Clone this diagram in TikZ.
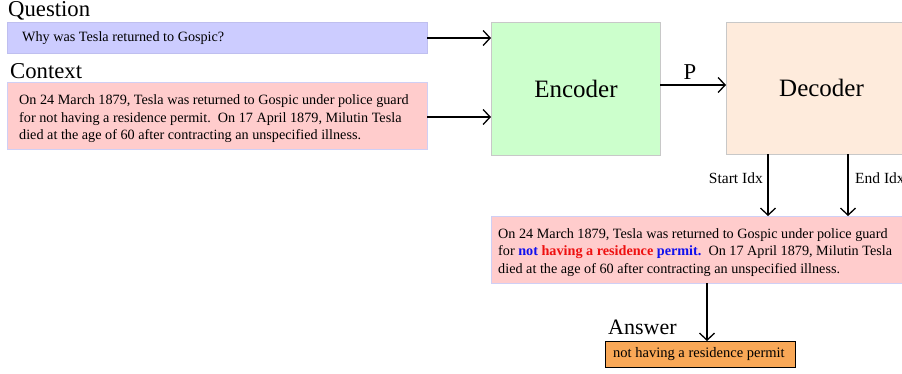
\documentclass[tikz,border=0pt]{standalone}
\usepackage{fontspec}
\setmainfont{Liberation Serif}
\usetikzlibrary{arrows.meta}
\definecolor{qfill}{HTML}{CCCCFF}
\definecolor{qline}{HTML}{BFBFEF}
\definecolor{cfill}{HTML}{FFCCCC}
\definecolor{cline}{HTML}{CFCFF5}
\definecolor{efill}{HTML}{CCFFCC}
\definecolor{dfill}{HTML}{FEEBDC}
\definecolor{gline}{HTML}{C8C8C8}
\definecolor{afill}{HTML}{F9A857}
\definecolor{hblue}{HTML}{1010EE}
\definecolor{hred}{HTML}{EE1010}
\tikzset{
  boxc/.style={draw=cline, line width=1pt, fill=cfill, anchor=north west, inner sep=0pt},
  body/.style={anchor=west, inner sep=0pt, align=left, font=\rmfamily\fontsize{14.2}{17.5}\selectfont},
  bigbox/.style={draw=gline, line width=1pt, anchor=north west, inner sep=0pt},
  bigtxt/.style={inner sep=0pt, font=\rmfamily\fontsize{25}{28}\selectfont},
  lbl/.style={anchor=base west, inner sep=0pt, font=\rmfamily\fontsize{22.7}{24}\selectfont},
  small/.style={inner sep=0pt, font=\rmfamily\fontsize{15.5}{17}\selectfont},
  arr/.style={line width=1.3pt, -{Straight Barb[length=7pt,width=15pt,line width=1.3pt]}}
}
\begin{document}
\begin{tikzpicture}[x=1pt,y=-1pt]
\clip (0,0) rectangle (902,373);
\fill[white] (0,0) rectangle (902,373);
% labels
\node[lbl] (qlbl) at (8,16.5) {Question};
\node[lbl] (clbl) at (10,78) {Context};
% question
\node[boxc, draw=qline, fill=qfill, minimum width=420pt, minimum height=31pt] (q) at (7,22) {};
\node[body] (qt) at (22,38.5) {Why was Tesla returned to Gospic?};
% context
\node[boxc, minimum width=420pt, minimum height=67pt] (c) at (7,82) {};
\node[body] (ct) at (19,119) {On 24 March 1879, Tesla was returned to Gospic under police guard\\for not having a residence permit.\ \ On 17 April 1879, Milutin Tesla\\died at the age of 60 after contracting an unspecified illness.};
% encoder / decoder
\node[bigbox, fill=efill, minimum width=169pt, minimum height=133pt] (enc) at (491,22) {};
\node[bigtxt] (enct) at (enc.center) {Encoder};
\node[bigbox, fill=dfill, minimum width=204pt, minimum height=132pt] (dec) at (726,22) {};
\node[bigtxt, anchor=west] (dect) at (779,88) {Decoder};
% output context
\node[boxc, minimum width=430pt, minimum height=67pt] (out) at (491,216) {};
\node[body] (outt) at (498,252.5) {On 24 March 1879, Tesla was returned to Gospic under police guard\\for \textbf{\textcolor{hblue}{not} \textcolor{hred}{having a residence} \textcolor{hblue}{permit.}}\ \ On 17 April 1879, Milutin Tesla\\died at the age of 60 after contracting an unspecified illness.};
% answer
\node[lbl, font=\rmfamily\fontsize{22}{24}\selectfont] (albl) at (608,334) {Answer};
\node[draw=black, line width=1pt, fill=afill, anchor=north west, minimum width=190pt, minimum height=26pt, inner sep=0pt] (ans) at (605,341) {};
\node[body, font=\rmfamily\fontsize{14.5}{17}\selectfont] (anst) at (613,354) {not having a residence permit};
% coordinates
\coordinate (qa) at (427,38);
\coordinate (qe) at (491,38);
\coordinate (ca) at (427,117);
\coordinate (ce) at (491,117);
\coordinate (pa) at (660,85);
\coordinate (pe) at (726,85);
\coordinate (s1) at (768,154);
\coordinate (s2) at (768,216);
\coordinate (e1) at (848,154);
\coordinate (e2) at (848,216);
\coordinate (o1) at (707,283);
\coordinate (o2) at (707,341);
% arrows
\draw[arr] (qa) -- (qe);
\draw[arr] (ca) -- (ce);
\draw[arr] (pa) -- (pe);
\node[anchor=base, inner sep=0pt, font=\rmfamily\fontsize{22.7}{24}\selectfont] (plbl) at (690,79) {P};
\draw[arr] (s1) -- (s2);
\node[small, anchor=east] (slbl) at (763,178) {Start Idx};
\draw[arr] (e1) -- (e2);
\node[small, anchor=west] (elbl) at (855,178) {End Idx};
\draw[arr] (o1) -- (o2);
\end{tikzpicture}
\end{document}
